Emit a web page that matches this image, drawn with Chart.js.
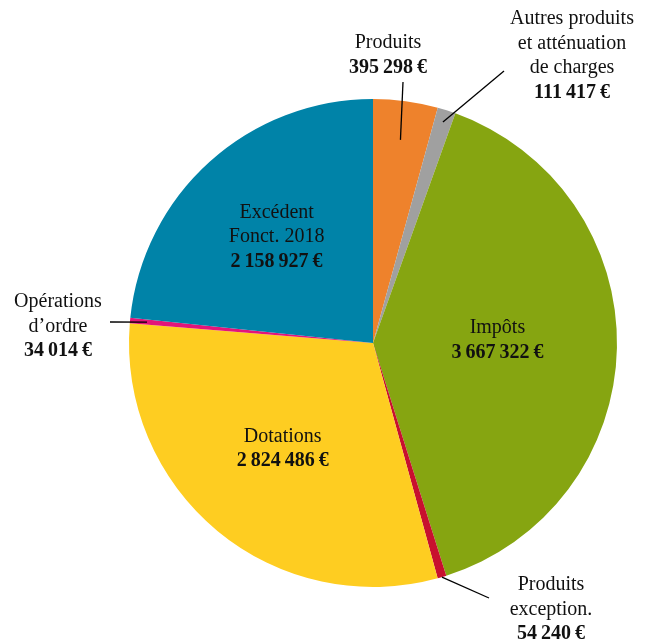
<!DOCTYPE html>
<html><head><meta charset="utf-8">
<script src="https://cdn.jsdelivr.net/npm/chart.js@4.4.0/dist/chart.umd.min.js"></script>
<style>html,body{margin:0;padding:0;background:#fff}#wrap{width:648px;height:643px}</style>
</head><body><div id="wrap"><canvas id="c" width="648" height="643"></canvas></div>
<script>
const categories = ["Produits", "Autres produits et atténuation de charges", "Impôts", "Produits exception.", "Dotations", "Opérations d’ordre", "Excédent Fonct. 2018"];
const labelLines = [["Produits"], ["Autres produits", "et atténuation", "de charges"], ["Impôts"], ["Produits", "exception."], ["Dotations"], ["Opérations", "d’ordre"], ["Excédent", "Fonct. 2018"]];
const values = [395298, 111417, 3667322, 54240, 2824486, 34014, 2158927];
const colors = ["#EE822C", "#A0A0A0", "#86A511", "#C8102E", "#FECD21", "#E2157A", "#0083A8"];

function fmt(v){ return String(v).replace(/\B(?=(\d{3})+(?!\d))/g, "\u202F") + "\u202F€"; }

const labelLayout = [
  {out:true, r0:0.84, end:[403,82], text:[388,43]},
  {out:true, r0:0.95, end:[504,71], text:[572,19]},
  {out:false, r:0.51, dy:-5},
  {out:true, r0:1.0, end:[489,598], text:[551,585]},
  {out:false, r:0.58, dy:-3},
  {out:true, r0:0.93, end:[110,322], text:[58,302]},
  {out:false, r:0.59, dy:1}
];

const labelPlugin = {
  id:'labels',
  afterDatasetsDraw(chart){
    const ctx = chart.ctx;
    const meta = chart.getDatasetMeta(0);
    const reg = '20px "Liberation Serif", "DejaVu Serif", serif';
    const bold = 'bold 20px "Liberation Serif", "DejaVu Serif", serif';
    const lh = 24.5;
    ctx.save();
    ctx.textAlign = 'center';
    ctx.textBaseline = 'middle';
    ctx.fillStyle = '#111';
    meta.data.forEach((arc, i) => {
      const L = labelLayout[i];
      const mid = (arc.startAngle + arc.endAngle) / 2;
      const R = arc.outerRadius;
      let tx, ty;
      if (!L.out) {
        const lines = labelLines[i].length + 1;
        tx = arc.x + Math.cos(mid) * R * L.r;
        ty = arc.y + Math.sin(mid) * R * L.r - (lines - 1) * lh / 2 + (L.dy || 0);
      } else {
        const sx = arc.x + Math.cos(mid) * R * L.r0;
        const sy = arc.y + Math.sin(mid) * R * L.r0;
        ctx.beginPath();
        ctx.strokeStyle = '#000';
        ctx.lineWidth = 1.3;
        ctx.moveTo(sx, sy);
        ctx.lineTo(L.end[0], L.end[1]);
        ctx.stroke();
        tx = L.text[0]; ty = L.text[1];
      }
      labelLines[i].forEach((t, k) => {
        ctx.font = reg;
        ctx.fillText(t, tx, ty + k * lh);
      });
      ctx.font = bold;
      ctx.fillText(fmt(values[i]), tx, ty + labelLines[i].length * lh);
    });
    ctx.restore();
  }
};

new Chart(document.getElementById('c'), {
  type: 'pie',
  data: { labels: categories, datasets: [{ data: values, backgroundColor: colors, borderWidth: 0 }] },
  options: {
    responsive: false,
    animation: false,
    layout: { padding: { left: 129, right: 31, top: 99, bottom: 56 } },
    plugins: { legend: { display: false }, tooltip: { enabled: false } }
  },
  plugins: [labelPlugin]
});
</script></body></html>
